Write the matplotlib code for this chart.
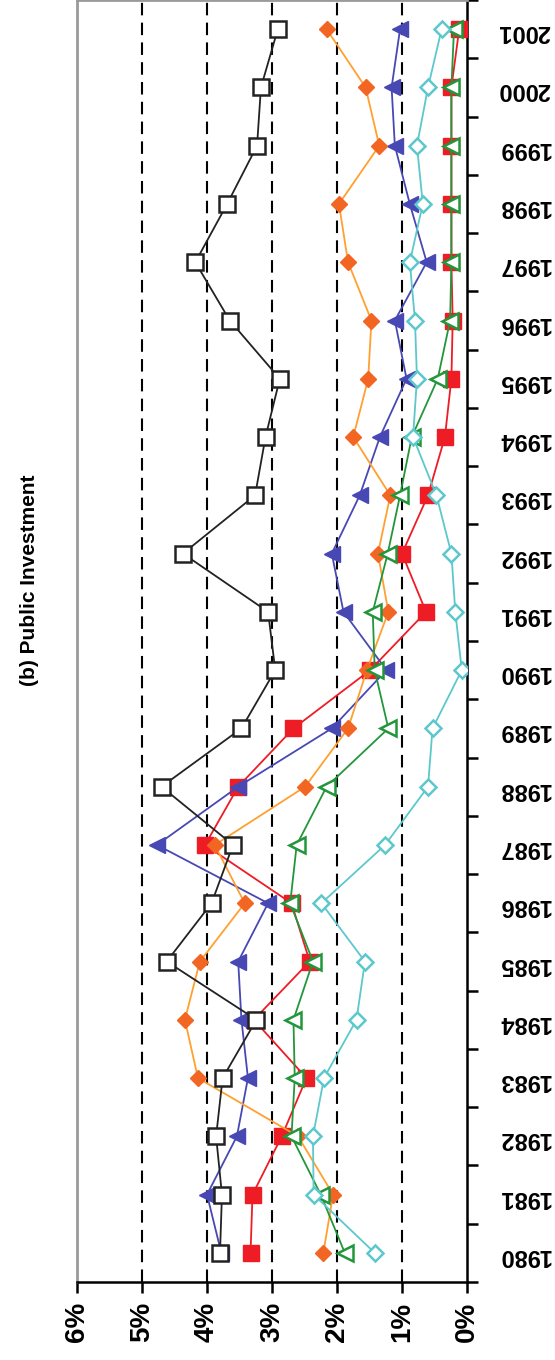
import numpy as np
import matplotlib
matplotlib.use("Agg")
import matplotlib.pyplot as plt

plt.rcParams["font.family"] = ["Liberation Sans", "DejaVu Sans"]

years = list(range(1980, 2002))

# share of GDP, in percent
black_sq = [3.80, 3.77, 3.86, 3.76, 3.24, 4.62, 3.93, 3.60, 4.70, 3.47, 2.95,
            3.06, 4.37, 3.26, 3.10, 2.88, 3.65, 4.18, 3.69, 3.23, 3.17, 2.91]
red_sq = [3.33, 3.30, 2.85, 2.47, 3.28, 2.42, 2.70, 4.03, 3.52, 2.67, 1.49,
          0.63, 1.00, 0.60, 0.34, 0.24, 0.22, 0.24, 0.24, 0.24, 0.24, 0.12]
blue_tri = [3.78, 4.00, 3.54, 3.37, 3.47, 3.52, 3.06, 4.77, 3.52, 2.08, 1.24,
            1.90, 2.08, 1.65, 1.34, 0.93, 1.11, 0.62, 0.88, 1.11, 1.16, 1.03]
orange_dm = [2.21, 2.06, 2.60, 4.14, 4.34, 4.11, 3.42, 3.88, 2.49, 1.83, 1.54,
             1.21, 1.37, 1.18, 1.75, 1.52, 1.47, 1.83, 1.97, 1.35, 1.56, 2.16]
green_tri = [1.88, 2.25, 2.70, 2.65, 2.67, 2.37, 2.72, 2.62, 2.16, 1.21, 1.42,
             1.45, 1.22, 1.03, 0.85, 0.45, 0.26, 0.24, 0.24, 0.24, 0.24, 0.20]
cyan_dm = [1.42, 2.36, 2.37, 2.20, 1.70, 1.57, 2.24, 1.26, 0.60, 0.53, 0.08,
           0.18, 0.24, 0.47, 0.83, 0.77, 0.80, 0.88, 0.68, 0.77, 0.60, 0.39]

pct_ticks = [0, 1, 2, 3, 4, 5, 6]
pct_labels = ["0%", "1%", "2%", "3%", "4%", "5%", "6%"]

W, H = 555, 1360
fig = plt.figure(figsize=(W / 100, H / 100), dpi=100)
ax = fig.add_axes([77 / W, 78 / H, 390 / W, 1282 / H])

for g in [1, 2, 3, 4, 5]:
    ax.axvline(g, color="black", lw=1.5, ls=(0, (6, 3.5)), zorder=1)

lw = 1.3
ax.plot(red_sq, years, color="#EE1C25", lw=lw, marker="s", ms=11,
        mfc="#EE1C25", mec="#EE1C25", zorder=3)
ax.plot(blue_tri, years, color="#4848B4", lw=lw, marker="<", ms=11,
        mfc="#4848B4", mec="#4848B4", zorder=4)
ax.plot(orange_dm, years, color="#FFA030", lw=lw, marker="D", ms=8,
        mfc="#F26522", mec="#F26522", zorder=5)
ax.plot(green_tri, years, color="#22963A", lw=lw, marker="<", ms=11,
        mfc="white", mec="#22963A", mew=1.8, zorder=6)
ax.plot(cyan_dm, years, color="#5CC8CC", lw=lw, marker="D", ms=8,
        mfc="white", mec="#5CC8CC", mew=1.8, zorder=7)
ax.plot(black_sq, years, color="#222222", lw=lw, marker="s", ms=12,
        mfc="white", mec="#222222", mew=1.8, zorder=8)

ax.set_xlim(6, 0)
ax.set_ylim(1979.5, 2001.5)

ax.set_xticks(pct_ticks)
ax.set_xticklabels(pct_labels, rotation=90, fontsize=20, fontweight="bold")
ax.tick_params(axis="x", direction="out", length=8, width=1.8, pad=6)

ax.yaxis.tick_right()
ax.set_yticks(np.arange(1979.5, 2002, 1))
ax.set_yticklabels([])
ax.set_yticks(years, minor=True)
ax.set_yticklabels([str(y) for y in years], minor=True, rotation=180,
                   fontsize=17, fontweight="bold")
ax.tick_params(axis="y", which="major", direction="out", length=8, width=1.8)
ax.tick_params(axis="y", which="minor", length=0, pad=22)

for side in ["right", "bottom"]:
    ax.spines[side].set_color("black")
    ax.spines[side].set_linewidth(1.8)
for side in ["left", "top"]:
    ax.spines[side].set_color("#9a9a9a")
    ax.spines[side].set_linewidth(2)

fig.text(30 / W, 1 - 580 / H, "(b) Public Investment", rotation=90,
         ha="center", va="center", fontsize=15, fontweight="bold")

fig.savefig("out.png", dpi=100)
